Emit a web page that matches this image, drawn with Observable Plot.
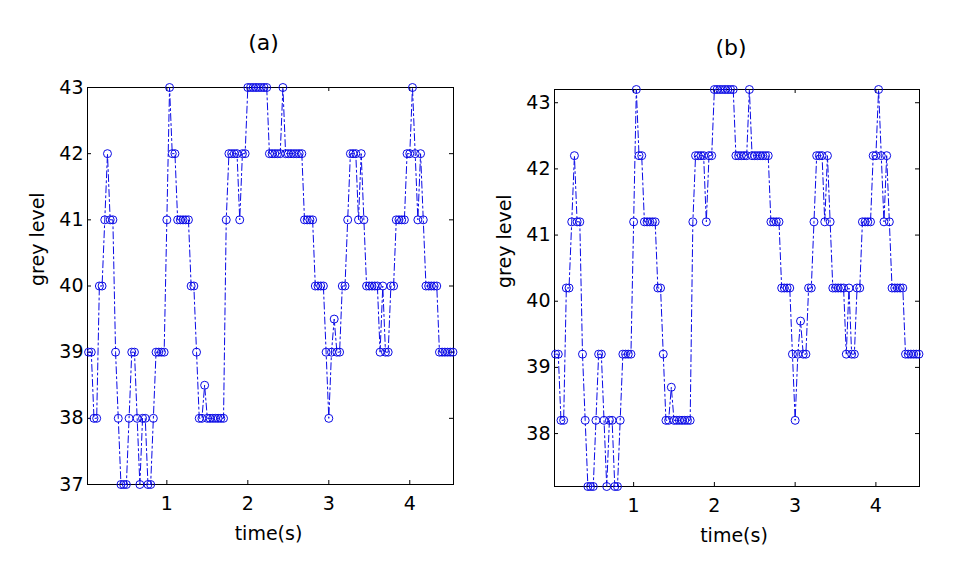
<!DOCTYPE html>
<html>
<head>
<meta charset="utf-8">
<script src="https://cdn.jsdelivr.net/npm/d3@7"></script>
<script src="https://cdn.jsdelivr.net/npm/@observablehq/plot@0.6"></script>
<style>
  html, body { margin: 0; padding: 0; background: #fff; }
  #chart { position: relative; width: 961px; height: 565px; overflow: hidden; }
  #chart svg { position: absolute; top: 0; }
</style>
</head>
<body>
<div id="chart"></div>
<script>
// sampled grey level signal, one value per video frame
const frameRate = 30; // frames per second
const greyA = [
  39, 39, 38, 38, 40, 40, 41, 42, 41, 41,
  39, 38, 37, 37, 37, 38, 39, 39, 38, 37,
  38, 38, 37, 37, 38, 39, 39, 39, 39, 41,
  43, 42, 42, 41, 41, 41, 41, 41, 40, 40,
  39, 38, 38, 38.5, 38, 38, 38, 38, 38, 38,
  38, 41, 42, 42, 42, 42, 41, 42, 42, 43,
  43, 43, 43, 43, 43, 43, 43, 42, 42, 42,
  42, 42, 43, 42, 42, 42, 42, 42, 42, 42,
  41, 41, 41, 41, 40, 40, 40, 40, 39, 38,
  39, 39.5, 39, 39, 40, 40, 41, 42, 42, 42,
  41, 42, 41, 40, 40, 40, 40, 40, 39, 40,
  39, 39, 40, 40, 41, 41, 41, 41, 42, 42,
  43, 42, 41, 42, 41, 40, 40, 40, 40, 40,
  39, 39, 39, 39, 39, 39
];
const greyB = [
  39.2, 39.2, 38.2, 38.2, 40.2, 40.2, 41.2, 42.2, 41.2, 41.2,
  39.2, 38.2, 37.2, 37.2, 37.2, 38.2, 39.2, 39.2, 38.2, 37.2,
  38.2, 38.2, 37.2, 37.2, 38.2, 39.2, 39.2, 39.2, 39.2, 41.2,
  43.2, 42.2, 42.2, 41.2, 41.2, 41.2, 41.2, 41.2, 40.2, 40.2,
  39.2, 38.2, 38.2, 38.7, 38.2, 38.2, 38.2, 38.2, 38.2, 38.2,
  38.2, 41.2, 42.2, 42.2, 42.2, 42.2, 41.2, 42.2, 42.2, 43.2,
  43.2, 43.2, 43.2, 43.2, 43.2, 43.2, 43.2, 42.2, 42.2, 42.2,
  42.2, 42.2, 43.2, 42.2, 42.2, 42.2, 42.2, 42.2, 42.2, 42.2,
  41.2, 41.2, 41.2, 41.2, 40.2, 40.2, 40.2, 40.2, 39.2, 38.2,
  39.2, 39.7, 39.2, 39.2, 40.2, 40.2, 41.2, 42.2, 42.2, 42.2,
  41.2, 42.2, 41.2, 40.2, 40.2, 40.2, 40.2, 40.2, 39.2, 40.2,
  39.2, 39.2, 40.2, 40.2, 41.2, 41.2, 41.2, 41.2, 42.2, 42.2,
  43.2, 42.2, 41.2, 42.2, 41.2, 40.2, 40.2, 40.2, 40.2, 40.2,
  39.2, 39.2, 39.2, 39.2, 39.2, 39.2
];
const xTicks = [1, 2, 3, 4];
const yTicksA = [37, 38, 39, 40, 41, 42, 43];
const yTicksB = [38, 39, 40, 41, 42, 43];
const titles = ["(a)", "(b)"];
const xLabel = "time(s)";
const yLabel = "grey level";

const blue = "#0a0ae6";
const H = 565;

function panel(values, yDomain, yTicks, title, layout) {
  const data = values.map((v, i) => ({t: (i + 1) / frameRate, v}));
  const fw = layout.width - layout.ml - layout.mr;
  const fh = H - layout.mt - layout.mb;
  return Plot.plot({
    width: layout.width,
    height: H,
    marginLeft: layout.ml,
    marginRight: layout.mr,
    marginTop: layout.mt,
    marginBottom: layout.mb,
    x: {domain: [0.02, 4.54]},
    y: {domain: yDomain},
    style: {fontFamily: "'DejaVu Sans', sans-serif", fontSize: "19px", color: "#000", background: "transparent", overflow: "visible"},
    marks: [
      Plot.frame({stroke: "#000", strokeWidth: 1}),
      Plot.tickX(xTicks, {x: d => d, insetTop: fh - 4, stroke: "#000"}),
      Plot.tickX(xTicks, {x: d => d, insetBottom: fh - 4, stroke: "#000"}),
      Plot.tickY(yTicks, {y: d => d, insetRight: fw - 4, stroke: "#000"}),
      Plot.tickY(yTicks, {y: d => d, insetLeft: fw - 4, stroke: "#000"}),
      Plot.axisX({ticks: xTicks, tickSize: 0, tickPadding: 12, label: null, tickFormat: d => String(d)}),
      Plot.axisY({ticks: yTicks, tickSize: 0, tickPadding: 4, label: null, tickFormat: d => String(d)}),
      Plot.line(data, {x: "t", y: "v", stroke: blue, strokeWidth: 1, strokeDasharray: "7,3,2,3"}),
      Plot.dot(data, {x: "t", y: "v", r: 4, stroke: blue, strokeWidth: 1, fill: "none"}),
      Plot.text([title], {frameAnchor: "top", lineAnchor: "middle", dy: layout.titleDy, dx: layout.titleDx, fontSize: 22}),
      Plot.text([xLabel], {frameAnchor: "bottom", lineAnchor: "middle", dy: 49, dx: layout.xlDx}),
      Plot.text([yLabel], {frameAnchor: "left", lineAnchor: "middle", rotate: -90, dx: -50})
    ]
  });
}

const chart = document.getElementById("chart");
const a = panel(greyA, [37, 43], yTicksA, titles[0],
  {width: 480, ml: 87, mr: 27, mt: 87, mb: 81, titleDy: -45, titleDx: -7, xlDx: -2});
a.style.left = "0px";
chart.appendChild(a);
const b = panel(greyB, [37.2, 43.2], yTicksB, titles[1],
  {width: 481, ml: 74, mr: 42, mt: 89, mb: 79, titleDy: -42, titleDx: -6, xlDx: -3});
b.style.left = "480px";
chart.appendChild(b);
</script>
</body>
</html>
